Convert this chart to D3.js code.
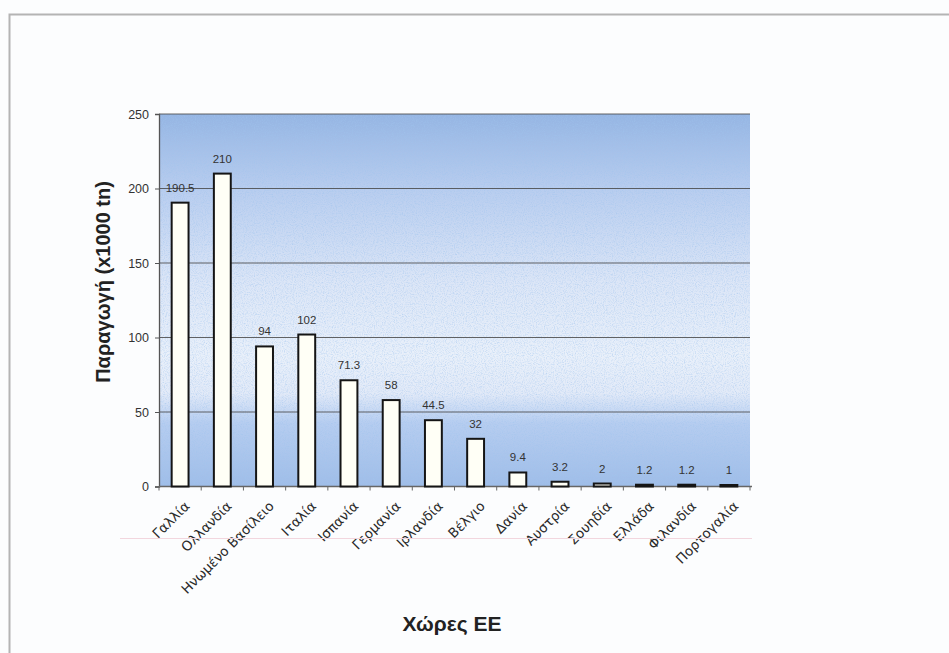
<!DOCTYPE html>
<html>
<head>
<meta charset="utf-8">
<script src="https://cdn.jsdelivr.net/npm/d3@7"></script>
<style>
  html, body { margin: 0; padding: 0; background: #ffffff; }
  svg { display: block; font-family: "Liberation Sans", Arial, sans-serif; }
</style>
</head>
<body>
<svg id="chart" width="949" height="653"></svg>
<script>
// Production per EU country (thousand tonnes)
const countries = ["Γαλλία", "Ολλανδία", "Ηνωμένο Βασίλειο", "Ιταλία", "Ισπανία", "Γερμανία",
  "Ιρλανδία", "Βέλγιο", "Δανία", "Αυστρία", "Σουηδία", "Ελλάδα", "Φιλανδία", "Πορτογαλία"];
const production = [190.5, 210, 94, 102, 71.3, 58, 44.5, 32, 9.4, 3.2, 2, 1.2, 1.2, 1];
const valueLabels = ["190.5", "210", "94", "102", "71.3", "58", "44.5", "32", "9.4", "3.2", "2", "1.2", "1.2", "1"];
const yTicks = [0, 50, 100, 150, 200, 250];

const svg = d3.select("#chart");
const plot = { left: 159, right: 750, top: 114, bottom: 486.5 };

// Page frame (top and left edges)
svg.append("rect").attr("x", 0).attr("y", 0).attr("width", 949).attr("height", 653).attr("fill", "#fcfdfe");
svg.append("path")
  .attr("d", "M9.5,653 V14.5 H949")
  .attr("fill", "none").attr("stroke", "#b4b4b4").attr("stroke-width", 2);

const defs = svg.append("defs");
const grad = defs.append("linearGradient").attr("id", "plotBg")
  .attr("x1", 0).attr("y1", 0).attr("x2", 0).attr("y2", 1);
[
  [0, "#95b5e3"], [0.2, "#b8cdef"], [0.45, "#dce6f7"], [0.65, "#e9f0fa"],
  [0.75, "#e2eaf8"], [0.83, "#b6cdf0"], [1, "#9fbde8"]
].forEach(([o, c]) => grad.append("stop").attr("offset", o).attr("stop-color", c));

// Grain over the plotting area
const grain = defs.append("filter").attr("id", "grain").attr("x", 0).attr("y", 0).attr("width", 1).attr("height", 1);
grain.append("feTurbulence").attr("type", "fractalNoise").attr("baseFrequency", 0.9).attr("numOctaves", 2).attr("seed", 4).attr("result", "n");
grain.append("feColorMatrix").attr("in", "n").attr("type", "matrix")
  .attr("values", "0 0 0 0 0.35  0 0 0 0 0.55  0 0 0 0 0.85  0 0 0 -2.2 1.25");
grain.append("feComposite").attr("in2", "SourceGraphic").attr("operator", "in");

const x = d3.scaleBand().domain(countries).range([plot.left, plot.right]).paddingInner(0.6).paddingOuter(0.3);
const xb = d3.scaleBand().domain(countries).range([plot.left, plot.right]);
const y = d3.scaleLinear().domain([0, 250]).range([plot.bottom, plot.top]);

svg.append("rect")
  .attr("x", plot.left).attr("y", plot.top)
  .attr("width", plot.right - plot.left).attr("height", plot.bottom - plot.top)
  .attr("fill", "url(#plotBg)");
svg.append("rect")
  .attr("x", plot.left).attr("y", plot.top)
  .attr("width", plot.right - plot.left).attr("height", plot.bottom - plot.top)
  .attr("fill", "#ffffff").attr("filter", "url(#grain)").attr("opacity", 0.55);

// Gridlines
svg.append("g").selectAll("line").data(yTicks.filter(d => d > 0)).join("line")
  .attr("x1", plot.left).attr("x2", plot.right)
  .attr("y1", d => y(d)).attr("y2", d => y(d))
  .attr("stroke", "#4a4a4a").attr("stroke-width", 1.2).attr("opacity", 0.85);

// Y axis
const yAxis = svg.append("g").attr("transform", `translate(${plot.left},0)`)
  .call(d3.axisLeft(y).tickValues(yTicks).tickSize(4).tickPadding(6));
yAxis.select(".domain").attr("stroke", "#555").attr("stroke-width", 1.3);
yAxis.selectAll(".tick line").attr("stroke", "#555");
yAxis.selectAll("text").attr("font-size", 12.5).attr("fill", "#333")
  .attr("font-family", "'Liberation Sans', Arial, sans-serif");

// X axis with ticks at category boundaries
const xAxis = svg.append("g").attr("transform", `translate(0,${plot.bottom})`);
xAxis.append("line").attr("x1", plot.left).attr("x2", plot.right + 2)
  .attr("stroke", "#666").attr("stroke-width", 1.3);
xAxis.selectAll("line.bd").data(countries.concat(["end"])).join("line").attr("class", "bd")
  .attr("x1", (d, i) => plot.left + i * xb.step()).attr("x2", (d, i) => plot.left + i * xb.step())
  .attr("y1", 0).attr("y2", 4).attr("stroke", "#666");

// Bars
svg.append("g").selectAll("rect").data(countries).join("rect")
  .attr("x", d => x(d))
  .attr("y", (d, i) => y(production[i]))
  .attr("width", x.bandwidth())
  .attr("height", (d, i) => Math.max(plot.bottom - y(production[i]), 1))
  .attr("fill", "#fffff6").attr("stroke", "#151515").attr("stroke-width", 2);

// Value labels above bars
svg.append("g").selectAll("text").data(countries).join("text")
  .attr("x", d => x(d) + x.bandwidth() / 2)
  .attr("y", (d, i) => y(production[i]) - 11)
  .attr("text-anchor", "middle").attr("font-size", 11.5).attr("fill", "#333")
  .text((d, i) => valueLabels[i]);

// Category labels, rotated
svg.append("g").selectAll("text").data(countries).join("text")
  .attr("transform", d => `translate(${xb(d) + xb.bandwidth() / 2 + 7},${plot.bottom + 17}) rotate(-45)`)
  .attr("text-anchor", "end").attr("dy", "0.35em")
  .attr("font-family", "'DejaVu Sans', sans-serif")
  .attr("font-size", 13.5).attr("fill", "#2a2a2a")
  .text(d => d);

// Faint rule below the axis
svg.append("line").attr("x1", 120).attr("x2", 752).attr("y1", 538.5).attr("y2", 538.5)
  .attr("stroke", "#f2d6de").attr("stroke-width", 1);

// Axis titles
svg.append("text")
  .attr("transform", `translate(110,${(180 + 384) / 2}) rotate(-90)`)
  .attr("text-anchor", "middle").attr("font-size", 20).attr("font-weight", "bold").attr("fill", "#222")
  .text("Παραγωγή (x1000 tn)");
svg.append("text")
  .attr("x", 452).attr("y", 631)
  .attr("text-anchor", "middle").attr("font-size", 21).attr("font-weight", "bold").attr("fill", "#222")
  .text("Χώρες ΕΕ");
</script>
</body>
</html>
